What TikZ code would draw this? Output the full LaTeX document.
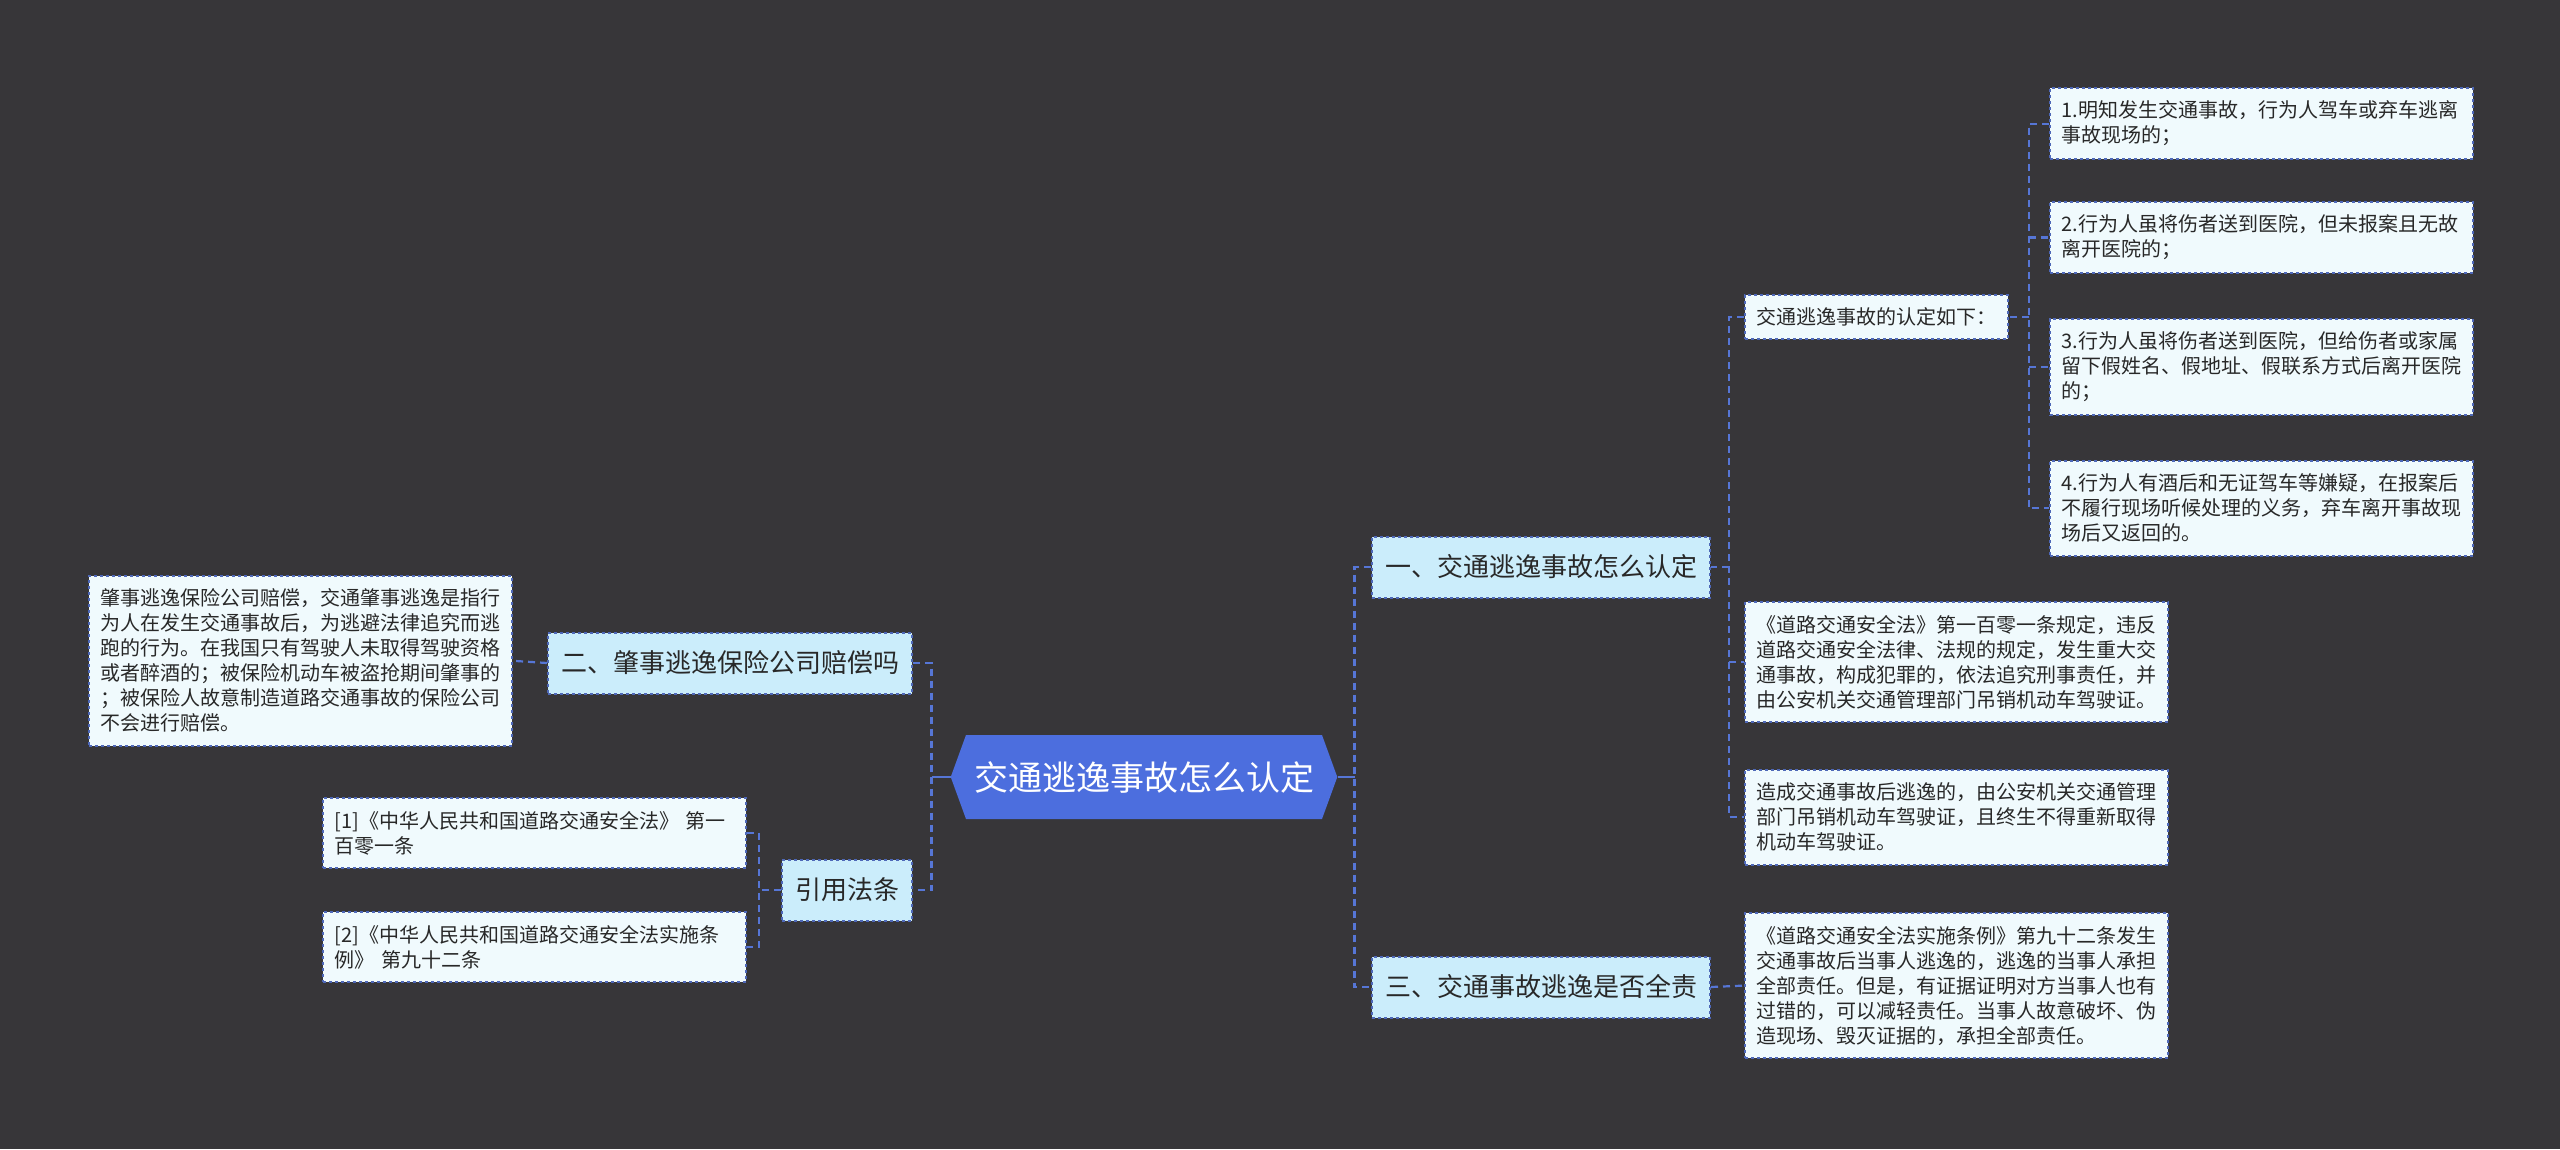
\documentclass[tikz,border=0pt]{standalone}
\usepackage{fontspec}
\newfontfamily\cjk{Noto Sans CJK SC}
\usetikzlibrary{shapes.symbols, calc, positioning}
\definecolor{MapBack}{RGB}{55, 54, 57}
\definecolor{MapRoot}{RGB}{76, 110, 222}
\definecolor{MapBranch}{RGB}{203, 237, 251}
\definecolor{MapLeaf}{RGB}{240, 250, 253}
\definecolor{MapEdge}{RGB}{78, 104, 184}
\definecolor{MapLink}{RGB}{86, 118, 214}
\definecolor{MapText}{RGB}{40, 40, 40}

\begin{document}
\begin{tikzpicture}[x=1pt, y=-1pt,
    every node/.style={font=\cjk, text=MapText},
    rootbox/.style={signal, signal to=west and east, signal pointer angle=140,
        fill=MapRoot, text=white, font=\cjk\fontsize{34}{40}\selectfont,
        minimum height=84pt, inner xsep=8pt},
    branchbox/.style={draw=MapEdge, dashed, line width=2pt, fill=MapBranch,
        font=\cjk\fontsize{26}{30}\selectfont, minimum height=61pt, inner xsep=13pt},
    leafbox/.style={draw=MapEdge, dashed, line width=2pt, fill=MapLeaf,
        font=\cjk\fontsize{20}{25}\selectfont, align=left,
        inner xsep=11.5pt, inner ysep=13pt, anchor=north west},
    link/.style={MapLink, line width=2.2pt, dash pattern=on 7pt off 5pt}]

    % --- Canvas ---
    \path[use as bounding box, fill=MapBack] (0,0) rectangle (2560,1149);

    % --- Root and branches ---
    \node[rootbox] (root) at (1144, 777) {交通逃逸事故怎么认定};
    \node[branchbox, anchor=west] (b1) at (1371, 567) {一、交通逃逸事故怎么认定};
    \node[branchbox, anchor=west] (b3) at (1371, 987) {三、交通事故逃逸是否全责};
    \node[branchbox, anchor=east] (b2) at (913, 663) {二、肇事逃逸保险公司赔偿吗};
    \node[branchbox, anchor=east] (cite) at (913, 890) {引用法条};

    % --- Leaves of branch one ---
    \node[leafbox, minimum height=44pt, inner ysep=8pt] (ding) at (1744, 294) {交通逃逸事故的认定如下：};
    \node[leafbox, text width=400pt] (a1) at (2049, 87)
        {1.明知发生交通事故，行为人驾车或弃车逃离\\事故现场的；};
    \node[leafbox, text width=400pt] (a2) at (2049, 201)
        {2.行为人虽将伤者送到医院，但未报案且无故\\离开医院的；};
    \node[leafbox, text width=400pt] (a3) at (2049, 318)
        {3.行为人虽将伤者送到医院，但给伤者或家属\\留下假姓名、假地址、假联系方式后离开医院\\的；};
    \node[leafbox, text width=400pt] (a4) at (2049, 460)
        {4.行为人有酒后和无证驾车等嫌疑，在报案后\\不履行现场听候处理的义务，弃车离开事故现\\场后又返回的。};
    \node[leafbox, text width=400pt] (law) at (1744, 601)
        {《道路交通安全法》第一百零一条规定，违反\\道路交通安全法律、法规的规定，发生重大交\\通事故，构成犯罪的，依法追究刑事责任，并\\由公安机关交通管理部门吊销机动车驾驶证。};
    \node[leafbox, text width=400pt] (revoke) at (1744, 769)
        {造成交通事故后逃逸的，由公安机关交通管理\\部门吊销机动车驾驶证，且终生不得重新取得\\机动车驾驶证。};

    % --- Leaves of branch three ---
    \node[leafbox, text width=400pt] (resp) at (1744, 912)
        {《道路交通安全法实施条例》第九十二条发生\\交通事故后当事人逃逸的，逃逸的当事人承担\\全部责任。但是，有证据证明对方当事人也有\\过错的，可以减轻责任。当事人故意破坏、伪\\造现场、毁灭证据的，承担全部责任。};

    % --- Left side leaves ---
    \node[leafbox, text width=400pt] (claim) at (88, 575)
        {肇事逃逸保险公司赔偿，交通肇事逃逸是指行\\为人在发生交通事故后，为逃避法律追究而逃\\跑的行为。在我国只有驾驶人未取得驾驶资格\\或者醉酒的；被保险机动车被盗抢期间肇事的\\；被保险人故意制造道路交通事故的保险公司\\不会进行赔偿。};
    \node[leafbox, text width=400pt] (ref1) at (322, 797)
        {[1]《中华人民共和国道路交通安全法》 第一\\百零一条};
    \node[leafbox, text width=400pt] (ref2) at (322, 911)
        {[2]《中华人民共和国道路交通安全法实施条\\例》 第九十二条};

    % --- Connectors ---
    \coordinate (rR) at ($(root.east)+(17,0)$);
    \coordinate (rL) at ($(root.west)+(-19,0)$);
    \draw[MapLink, line width=2.2pt] (root.east) -- (rR);
    \draw[MapLink, line width=2.2pt] (root.west) -- (rL);
    \draw[link] (b1.west) -| (rR) |- (b3.west);
    \draw[link] (b2.east) -| (rL) |- (cite.east);

    \coordinate (s1) at ($(b1.east)+(18,0)$);
    \draw[link] (ding.west) -| (s1) |- (revoke.west);
    \foreach \leaf in {b1.east, law.west}
        \draw[link] (s1 |- \leaf) -- (\leaf);

    \coordinate (s2) at ($(ding.east)+(20,0)$);
    \draw[link] (a1.west) -| (s2) |- (a4.west);
    \foreach \leaf in {ding.east, a2.west, a3.west}
        \draw[link] (s2 |- \leaf) -- (\leaf);

    \draw[link] (b3.east) -- (resp.west);
    \draw[link] (b2.west) -- (claim.east);

    \coordinate (s3) at ($(cite.west)+(-22,0)$);
    \draw[link] (ref1.east) -| (s3) |- (ref2.east);
    \draw[link] (cite.west) -- (s3);

\end{tikzpicture}
\end{document}
